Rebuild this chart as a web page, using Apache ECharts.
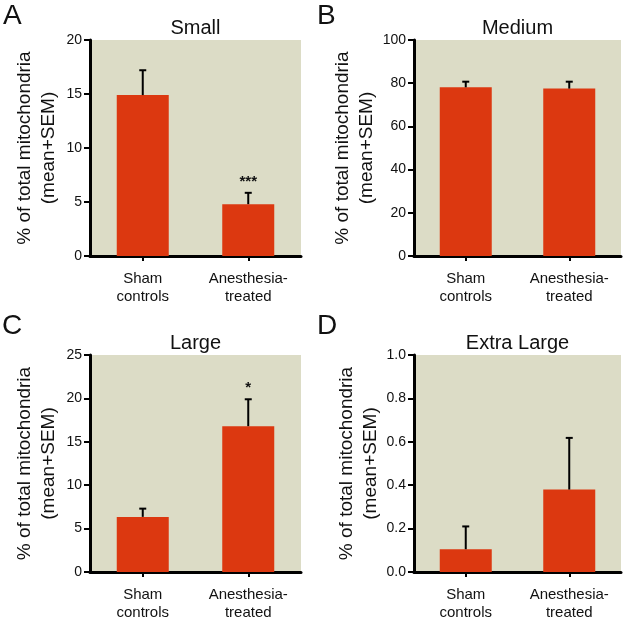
<!DOCTYPE html>
<html>
<head>
<meta charset="utf-8">
<script src="https://cdn.jsdelivr.net/npm/echarts@6/dist/echarts.min.js"></script>
<style>html,body{margin:0;padding:0;background:#fff}#c{width:630px;height:625px}</style>
</head>
<body>
<div id="c"></div>
<script>
// ---- data ----
const categories = ['Sham\ncontrols', 'Anesthesia-\ntreated'];
const panelLetters = ['A', 'B', 'C', 'D'];
const panelTitles = ['Small', 'Medium', 'Large', 'Extra Large'];
const smallMean = [14.9, 4.8];
const smallSem = [2.3, 1.05];
const smallSig = ['', '***'];
const mediumMean = [78.1, 77.5];
const mediumSem = [2.6, 3.2];
const mediumSig = ['', ''];
const largeMean = [6.35, 16.8];
const largeSem = [0.95, 3.1];
const largeSig = ['', '*'];
const xlMean = [0.105, 0.38];
const xlSem = [0.105, 0.238];
const xlSig = ['', ''];
const yMax = [20, 100, 25, 1.0];
const yInterval = [5, 20, 5, 0.2];
const yDecimals = [0, 0, 0, 1];
const yAxisName = '% of total mitochondria\n(mean+SEM)';

// ---- layout ----
const FONT = '"Liberation Sans", Arial, sans-serif';
const BAR = '#dc3810';
const BG = '#dcdcc6';
const grids = [
  {left: 90, top: 40, width: 211, height: 216},
  {left: 414, top: 40, width: 207, height: 216},
  {left: 90, top: 355, width: 211, height: 217},
  {left: 414, top: 355, width: 207, height: 217}
];
const letterPos = [[3, 2], [317, 2], [2, 312], [317, 312]];
const panels = [
  [smallMean, smallSem, smallSig],
  [mediumMean, mediumSem, mediumSig],
  [largeMean, largeSem, largeSig],
  [xlMean, xlSem, xlSig]
];

const chart = echarts.init(document.getElementById('c'), null, {renderer: 'canvas'});

const option = {
  backgroundColor: '#fff',
  animation: false,
  textStyle: {fontFamily: FONT},
  title: [],
  grid: [],
  xAxis: [],
  yAxis: [],
  series: []
};

grids.forEach((g, k) => {
  option.grid.push(Object.assign({show: true, backgroundColor: BG, borderWidth: 0, containLabel: false, outerBoundsMode: 'none'}, g));
  option.title.push({
    text: panelTitles[k], left: g.left + g.width / 2, top: g.top - 22, textAlign: 'center', padding: 0,
    textStyle: {fontFamily: FONT, fontSize: 20, fontWeight: 'normal', color: '#111'}
  });
  option.title.push({
    text: panelLetters[k], left: letterPos[k][0], top: letterPos[k][1], padding: 0,
    textStyle: {fontFamily: FONT, fontSize: 28, fontWeight: 'normal', color: '#111'}
  });
  option.xAxis.push({
    type: 'category', gridIndex: k, data: categories, boundaryGap: true,
    axisLine: {show: true, lineStyle: {color: '#000', width: 3}},
    axisTick: {show: true, alignWithLabel: true, length: 5, lineStyle: {color: '#000', width: 2}},
    axisLabel: {fontFamily: FONT, fontSize: 15, lineHeight: 18, color: '#111', margin: 14},
    splitLine: {show: false}
  });
  option.yAxis.push({
    type: 'value', gridIndex: k, min: 0, max: yMax[k], interval: yInterval[k],
    name: yAxisName, nameLocation: 'middle', nameGap: 29, nameRotate: 90,
    nameTextStyle: {fontFamily: FONT, fontSize: 19, lineHeight: 24, color: '#111'},
    axisLine: {show: true, onZero: false, lineStyle: {color: '#000', width: 3}},
    axisTick: {show: true, length: 6, lineStyle: {color: '#000', width: 2}},
    axisLabel: {fontFamily: FONT, fontSize: 14, color: '#111', margin: 8,
      formatter: v => v.toFixed(yDecimals[k])},
    splitLine: {show: false}
  });
  const [means, sems, sig] = panels[k];
  option.series.push({
    type: 'bar', xAxisIndex: k, yAxisIndex: k, data: means, barWidth: 52,
    itemStyle: {color: BAR}, z: 2
  });
  option.series.push({
    type: 'custom', xAxisIndex: k, yAxisIndex: k, z: 3,
    data: means.map((m, i) => [i, m, sems[i]]),
    encode: {x: 0, y: 1},
    renderItem: (params, api) => {
      const i = api.value(0), m = api.value(1), s = api.value(2);
      const b = api.coord([i, m]);
      const t = api.coord([i, m + s]);
      const children = [
        {type: 'line', shape: {x1: b[0], y1: b[1], x2: t[0], y2: t[1]}, style: {stroke: '#000', lineWidth: 2}},
        {type: 'line', shape: {x1: t[0] - 3.5, y1: t[1], x2: t[0] + 3.5, y2: t[1]}, style: {stroke: '#000', lineWidth: 2}}
      ];
      const star = sig[params.dataIndex];
      if (star) {
        children.push({type: 'text', x: t[0], y: t[1] - 11,
          style: {text: star, fontFamily: FONT, fontSize: 15, fontWeight: 'bold', fill: '#111', align: 'center', verticalAlign: 'middle'}});
      }
      return {type: 'group', children};
    }
  });
});

chart.setOption(option);
</script>
</body>
</html>
